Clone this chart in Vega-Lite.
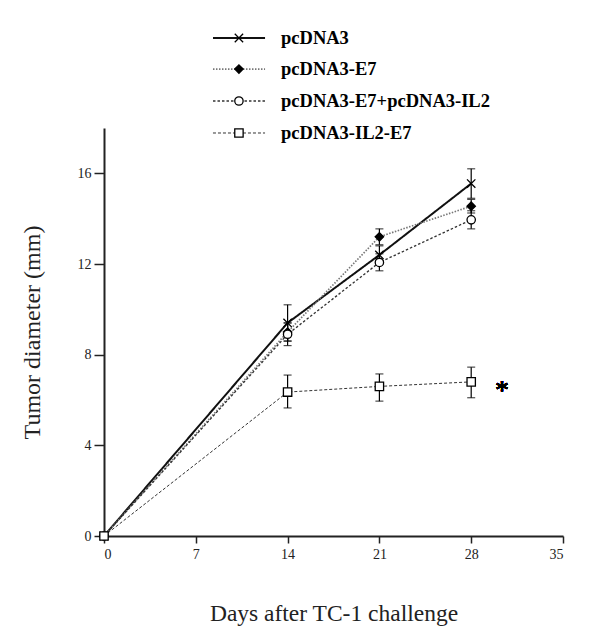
{
  "$schema": "https://vega.github.io/schema/vega-lite/v6.json",
  "background": "white",
  "autosize": {"type": "none"},
  "padding": {"left": 104, "top": 128, "right": 37, "bottom": 97},
  "width": 459,
  "height": 408,
  "config": {
    "view": {"stroke": null},
    "font": "Liberation Serif",
    "axis": {"grid": false, "labelFont": "Liberation Serif", "titleFont": "Liberation Serif", "titleFontWeight": "normal", "labelColor": "#222", "titleColor": "#222", "domainColor": "#222", "tickColor": "#222"}
  },
  "data": {"values": [
    {"series": "pcDNA3", "day": 0, "mean": 0, "lo": 0, "hi": 0},
    {"series": "pcDNA3", "day": 14, "mean": 9.4, "lo": 8.6, "hi": 10.2},
    {"series": "pcDNA3", "day": 21, "mean": 12.4, "lo": 12.0, "hi": 12.8},
    {"series": "pcDNA3", "day": 28, "mean": 15.55, "lo": 14.9, "hi": 16.2},
    {"series": "pcDNA3-E7", "day": 0, "mean": 0, "lo": 0, "hi": 0},
    {"series": "pcDNA3-E7", "day": 14, "mean": 9.0, "lo": 8.6, "hi": 9.4},
    {"series": "pcDNA3-E7", "day": 21, "mean": 13.2, "lo": 12.85, "hi": 13.55},
    {"series": "pcDNA3-E7", "day": 28, "mean": 14.55, "lo": 14.25, "hi": 14.85},
    {"series": "pcDNA3-E7+pcDNA3-IL2", "day": 0, "mean": 0, "lo": 0, "hi": 0},
    {"series": "pcDNA3-E7+pcDNA3-IL2", "day": 14, "mean": 8.9, "lo": 8.4, "hi": 9.4},
    {"series": "pcDNA3-E7+pcDNA3-IL2", "day": 21, "mean": 12.07, "lo": 11.7, "hi": 12.45},
    {"series": "pcDNA3-E7+pcDNA3-IL2", "day": 28, "mean": 13.95, "lo": 13.55, "hi": 14.35},
    {"series": "pcDNA3-IL2-E7", "day": 0, "mean": 0, "lo": 0, "hi": 0},
    {"series": "pcDNA3-IL2-E7", "day": 14, "mean": 6.35, "lo": 5.65, "hi": 7.1},
    {"series": "pcDNA3-IL2-E7", "day": 21, "mean": 6.6, "lo": 5.95, "hi": 7.15},
    {"series": "pcDNA3-IL2-E7", "day": 28, "mean": 6.8, "lo": 6.1, "hi": 7.45}
  ]},
  "encoding": {
    "x": {"field": "day", "type": "quantitative", "title": "Days after TC-1 challenge",
          "scale": {"domain": [0, 35], "nice": false},
          "axis": {"values": [0, 7, 14, 21, 28, 35], "tickSize": 7, "tickWidth": 1.5, "domainWidth": 2, "labelFontSize": 14, "labelPadding": 4, "titleFontSize": 23.5, "titlePadding": 40}},
    "y": {"field": "mean", "type": "quantitative", "title": "Tumor diameter (mm)",
          "scale": {"domain": [0, 18], "nice": false},
          "axis": {"values": [0, 4, 8, 12, 16], "tickSize": 10, "tickWidth": 1.5, "domainWidth": 2, "labelFontSize": 14, "labelPadding": 3, "titleFontSize": 24, "titlePadding": 33}}
  },
  "layer": [
    {
      "mark": {"type": "line"},
      "encoding": {
        "detail": {"field": "series"},
        "color": {"field": "series", "type": "nominal", "legend": null,
          "scale": {"domain": ["pcDNA3", "pcDNA3-E7", "pcDNA3-E7+pcDNA3-IL2", "pcDNA3-IL2-E7"], "range": ["#111", "#777", "#333", "#333"]}},
        "strokeDash": {"field": "series", "type": "nominal", "legend": null,
          "scale": {"domain": ["pcDNA3", "pcDNA3-E7", "pcDNA3-E7+pcDNA3-IL2", "pcDNA3-IL2-E7"], "range": [[1, 0], [1.5, 1.5], [2.5, 2], [3, 2]]}},
        "strokeWidth": {"field": "series", "type": "nominal", "legend": null,
          "scale": {"domain": ["pcDNA3", "pcDNA3-E7", "pcDNA3-E7+pcDNA3-IL2", "pcDNA3-IL2-E7"], "range": [2, 1, 1.5, 1.3]}}
      }
    },
    {
      "transform": [{"filter": "datum.day > 0"}],
      "mark": {"type": "rule", "color": "black", "strokeWidth": 1.2},
      "encoding": {"y": {"field": "lo", "type": "quantitative"}, "y2": {"field": "hi"}}
    },
    {
      "transform": [{"filter": "datum.day > 0"}],
      "mark": {"type": "tick", "orient": "horizontal", "color": "black", "size": 8, "thickness": 1.2},
      "encoding": {"y": {"field": "lo", "type": "quantitative"}}
    },
    {
      "transform": [{"filter": "datum.day > 0"}],
      "mark": {"type": "tick", "orient": "horizontal", "color": "black", "size": 8, "thickness": 1.2},
      "encoding": {"y": {"field": "hi", "type": "quantitative"}}
    },
    {
      "mark": {"type": "point", "stroke": "black", "strokeWidth": 1.3, "opacity": 1, "filled": false},
      "encoding": {
        "shape": {"field": "series", "type": "nominal", "legend": null,
          "scale": {"domain": ["pcDNA3", "pcDNA3-E7", "pcDNA3-E7+pcDNA3-IL2", "pcDNA3-IL2-E7"], "range": ["M-1,-1L1,1M-1,1L1,-1", "diamond", "circle", "square"]}},
        "fill": {"field": "series", "type": "nominal", "legend": null,
          "scale": {"domain": ["pcDNA3", "pcDNA3-E7", "pcDNA3-E7+pcDNA3-IL2", "pcDNA3-IL2-E7"], "range": ["black", "black", "white", "white"]}},
        "size": {"field": "series", "type": "nominal", "legend": null,
          "scale": {"domain": ["pcDNA3", "pcDNA3-E7", "pcDNA3-E7+pcDNA3-IL2", "pcDNA3-IL2-E7"], "range": [70, 70, 144, 121]}}
      }
    },
    {
      "mark": {"type": "text", "fontSize": 28, "font": "Liberation Serif", "baseline": "middle", "dy": 6, "fill": "black"},
      "encoding": {"x": {"datum": 30.35, "type": "quantitative"}, "y": {"datum": 6.65, "type": "quantitative"}, "text": {"value": "*"}}
    },
    {
      "transform": [{"filter": "datum.day == 0 && datum.series == 'pcDNA3'"}],
      "encoding": {"y": {"datum": 21.97, "type": "quantitative"}},
      "layer": [
        {"mark": {"type": "rule"}, "encoding": {"x": {"datum": 8.31, "type": "quantitative"}, "x2": {"datum": 12.28}, "color": {"field": "series", "type": "nominal", "legend": null}, "strokeDash": {"field": "series", "type": "nominal", "legend": null}, "strokeWidth": {"field": "series", "type": "nominal", "legend": null}}},
        {"mark": {"type": "point", "stroke": "black", "strokeWidth": 1.3, "opacity": 1, "filled": false}, "encoding": {"x": {"datum": 10.29, "type": "quantitative"}, "shape": {"field": "series", "type": "nominal", "legend": null}, "fill": {"field": "series", "type": "nominal", "legend": null}, "size": {"field": "series", "type": "nominal", "legend": null}}},
        {"mark": {"type": "text", "align": "left", "baseline": "middle", "font": "Liberation Serif", "fontWeight": "bold", "fontSize": 18.5}, "encoding": {"x": {"datum": 13.5, "type": "quantitative"}, "text": {"field": "series"}, "color": {"value": "black"}}}
      ]
    },
    {
      "transform": [{"filter": "datum.day == 0 && datum.series == 'pcDNA3-E7'"}],
      "encoding": {"y": {"datum": 20.6, "type": "quantitative"}},
      "layer": [
        {"mark": {"type": "rule"}, "encoding": {"x": {"datum": 8.31, "type": "quantitative"}, "x2": {"datum": 12.28}, "color": {"field": "series", "type": "nominal", "legend": null}, "strokeDash": {"field": "series", "type": "nominal", "legend": null}, "strokeWidth": {"field": "series", "type": "nominal", "legend": null}}},
        {"mark": {"type": "point", "stroke": "black", "strokeWidth": 1.3, "opacity": 1, "filled": false}, "encoding": {"x": {"datum": 10.29, "type": "quantitative"}, "shape": {"field": "series", "type": "nominal", "legend": null}, "fill": {"field": "series", "type": "nominal", "legend": null}, "size": {"field": "series", "type": "nominal", "legend": null}}},
        {"mark": {"type": "text", "align": "left", "baseline": "middle", "font": "Liberation Serif", "fontWeight": "bold", "fontSize": 18.5}, "encoding": {"x": {"datum": 13.5, "type": "quantitative"}, "text": {"field": "series"}, "color": {"value": "black"}}}
      ]
    },
    {
      "transform": [{"filter": "datum.day == 0 && datum.series == 'pcDNA3-E7+pcDNA3-IL2'"}],
      "encoding": {"y": {"datum": 19.19, "type": "quantitative"}},
      "layer": [
        {"mark": {"type": "rule"}, "encoding": {"x": {"datum": 8.31, "type": "quantitative"}, "x2": {"datum": 12.28}, "color": {"field": "series", "type": "nominal", "legend": null}, "strokeDash": {"field": "series", "type": "nominal", "legend": null}, "strokeWidth": {"field": "series", "type": "nominal", "legend": null}}},
        {"mark": {"type": "point", "stroke": "black", "strokeWidth": 1.3, "opacity": 1, "filled": false}, "encoding": {"x": {"datum": 10.29, "type": "quantitative"}, "shape": {"field": "series", "type": "nominal", "legend": null}, "fill": {"field": "series", "type": "nominal", "legend": null}, "size": {"field": "series", "type": "nominal", "legend": null}}},
        {"mark": {"type": "text", "align": "left", "baseline": "middle", "font": "Liberation Serif", "fontWeight": "bold", "fontSize": 18.5}, "encoding": {"x": {"datum": 13.5, "type": "quantitative"}, "text": {"field": "series"}, "color": {"value": "black"}}}
      ]
    },
    {
      "transform": [{"filter": "datum.day == 0 && datum.series == 'pcDNA3-IL2-E7'"}],
      "encoding": {"y": {"datum": 17.78, "type": "quantitative"}},
      "layer": [
        {"mark": {"type": "rule"}, "encoding": {"x": {"datum": 8.31, "type": "quantitative"}, "x2": {"datum": 12.28}, "color": {"field": "series", "type": "nominal", "legend": null}, "strokeDash": {"field": "series", "type": "nominal", "legend": null}, "strokeWidth": {"field": "series", "type": "nominal", "legend": null}}},
        {"mark": {"type": "point", "stroke": "black", "strokeWidth": 1.3, "opacity": 1, "filled": false}, "encoding": {"x": {"datum": 10.29, "type": "quantitative"}, "shape": {"field": "series", "type": "nominal", "legend": null}, "fill": {"field": "series", "type": "nominal", "legend": null}, "size": {"field": "series", "type": "nominal", "legend": null}}},
        {"mark": {"type": "text", "align": "left", "baseline": "middle", "font": "Liberation Serif", "fontWeight": "bold", "fontSize": 18.5}, "encoding": {"x": {"datum": 13.5, "type": "quantitative"}, "text": {"field": "series"}, "color": {"value": "black"}}}
      ]
    }
  ]
}
